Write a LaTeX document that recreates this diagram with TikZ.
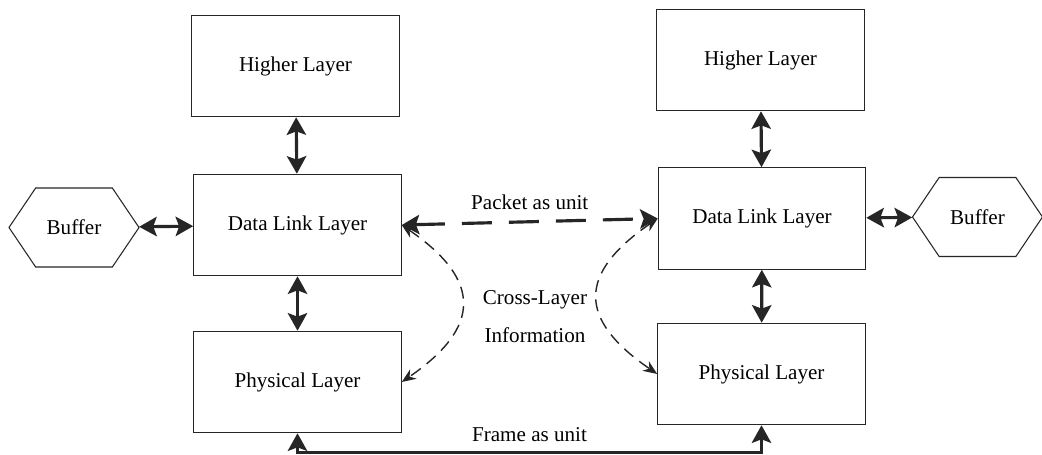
\documentclass[tikz,border=0pt]{standalone}
\usepackage{fontspec}
\setmainfont{Liberation Serif}
\usepackage{tikz}
\usetikzlibrary{positioning,arrows.meta,shapes.symbols,calc}

\begin{document}
\begin{tikzpicture}[
    font=\fontsize{12}{14}\selectfont,
    layer/.style={draw=black!85, line width=0.6pt, fill=white, minimum width=4.15cm, minimum height=2.03cm, align=center},
    buffer/.style={signal, signal to=west and east, signal pointer angle=112, draw=black!85, line width=0.6pt, fill=white, minimum width=2.6cm, minimum height=1.58cm},
    biarrow/.style={arrows={Stealth[length=10pt,width=11pt,inset=2pt]-Stealth[length=10pt,width=11pt,inset=2pt]}, line width=1.8pt, draw=black!85},
    packet/.style={biarrow, dash pattern=on 0.6cm off 0.34cm},
    crossinfo/.style={arrows={Stealth[length=8pt,width=6.5pt]-Stealth[length=8pt,width=6.5pt]}, line width=0.8pt, draw=black!85, dash pattern=on 0.24cm off 0.15cm},
    elabel/.style={inner sep=2pt},
  ]
  \useasboundingbox (0,0) rectangle (20.84,9.08);
  \node[layer] (hlL) at (5.91,7.76) {Higher Layer};
  \node[layer] (dlL) at (5.95,4.58) {Data Link Layer};
  \node[layer] (phL) at (5.95,1.44) {Physical Layer};
  \node[layer] (hlR) at (15.21,7.88) {Higher Layer};
  \node[layer] (dlR) at (15.24,4.71) {Data Link Layer};
  \node[layer] (phR) at (15.23,1.60) {Physical Layer};
  \node[buffer] (bufL) at (1.48,4.53) {Buffer};
  \node[buffer] (bufR) at (19.55,4.74) {Buffer};
  \node[align=center] (xinfo) at (10.70,2.75) {Cross-Layer\\[8pt]Information};
  \draw[biarrow] (hlL) -- (dlL);
  \draw[biarrow] (dlL) -- (phL);
  \draw[biarrow] (hlR) -- (dlR);
  \draw[biarrow] (dlR) -- (phR);
  \draw[biarrow] (bufL) -- (dlL);
  \draw[biarrow] (dlR) -- (bufR);
  \draw[packet] (dlL.east) -- node[elabel,above=4pt] {Packet as unit} (dlR.west);
  \draw[crossinfo] (dlL.east) .. controls +(1.6,-1.1) and +(1.6,1.1) .. (phL.east);
  \draw[crossinfo] (dlR.west) .. controls +(-1.6,-1.1) and +(-1.6,1.1) .. (phR.west);
  \draw[biarrow] (phL.south) -- ++(0,-0.38) -| node[elabel,pos=0.25,above=3pt] {Frame as unit} (phR.south);
\end{tikzpicture}
\end{document}
